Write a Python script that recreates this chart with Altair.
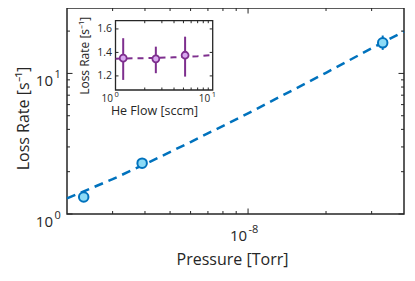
import altair as alt
import pandas as pd

# ---- main panel data ----
pressure = [2.32e-9, 3.90e-9, 3.31e-8]
rate = [1.32, 2.30, 16.5]
rate_lo = [1.29, 2.25, 14.7]
rate_hi = [1.35, 2.36, 18.6]
fit_pressure = [2e-9, 3e-9, 4e-9, 6e-9, 1e-8, 2e-8, 3e-8, 4e-8]
fit_rate = [1.29, 1.77, 2.26, 3.25, 5.2, 10.1, 15.1, 19.9]
x_minor = [3e-9, 4e-9, 5e-9, 6e-9, 7e-9, 8e-9, 9e-9, 2e-8, 3e-8]
x_major = [1e-8]
x_label_exp = ["-8"]
y_minor = [2, 3, 4, 5, 6, 7, 8, 9, 20]
y_major = [1, 10]
y_label_exp = ["0", "1"]

# ---- inset data ----
flow = [1.2, 2.6, 5.2]
inset_rate = [1.351, 1.345, 1.376]
inset_lo = [1.166, 1.223, 1.194]
inset_hi = [1.521, 1.449, 1.534]
inset_fit_flow = [1, 2, 4, 7, 10]
inset_fit_rate = [1.347, 1.351, 1.358, 1.368, 1.379]
inset_x_minor = [2, 3, 4, 5, 6, 7, 8, 9]
inset_x_major = [1, 10]
inset_x_exp = ["0", "1"]
inset_y_ticks = [1.2, 1.4, 1.6]

FONT = "Open Sans"
DARK = "#262626"
BLUE = "#0072BD"
CYAN = "#8CDBF6"
PURPLE = "#7E2F8E"
LILAC = "#D8A8F0"

W, H = 337, 206
IX = [48.5, 145.7]
IY = [82, 12.7]

xs = alt.Scale(type="log", domain=[2e-9, 4e-8], nice=False)
ys = alt.Scale(type="log", domain=[1, 29.2], nice=False)
ixs = alt.Scale(type="log", domain=[1, 10], range=IX, nice=False)
iys = alt.Scale(type="linear", domain=[1.08, 1.67], range=IY, nice=False, zero=False)

main_df = pd.DataFrame({"p": pressure, "r": rate, "lo": rate_lo, "hi": rate_hi})
fit_df = pd.DataFrame({"p": fit_pressure, "r": fit_rate})

fit_line = alt.Chart(fit_df).mark_line(color=BLUE, strokeWidth=2.5, strokeDash=[9, 6]).encode(
    x=alt.X("p:Q", scale=xs, axis=alt.Axis(
        orient="bottom", labels=False, ticks=False, domain=False, grid=False,
        title="Pressure [Torr]", titleFont=FONT, titleFontSize=16, titleFontWeight="normal",
        titleColor=DARK, titlePadding=37, titleX=165, titleAlign="center")),
    y=alt.Y("r:Q", scale=ys, axis=alt.Axis(
        orient="left", labels=False, ticks=False, domain=False, grid=False,
        title="Loss Rate [s⁻¹]", titleFont=FONT, titleFontSize=16, titleFontWeight="normal",
        titleColor=DARK, titlePadding=36, titleY=110, titleAlign="center")),
)

err = alt.Chart(main_df).mark_rule(color=BLUE, strokeWidth=2).encode(
    x=alt.X("p:Q", scale=xs, axis=None),
    y=alt.Y("lo:Q", scale=ys, axis=None),
    y2="hi:Q",
)
pts = alt.Chart(main_df).mark_point(shape="circle", size=90, fill=CYAN, fillOpacity=1,
                                    stroke=BLUE, strokeWidth=2, opacity=1).encode(
    x=alt.X("p:Q", scale=xs, axis=None),
    y=alt.Y("r:Q", scale=ys, axis=None),
)


def xticks(vals, scale, y0, length, sign):
    return alt.Chart(pd.DataFrame({"v": vals})).mark_rule(color=DARK, strokeWidth=1).encode(
        x=alt.X("v:Q", scale=scale, axis=None),
        y=alt.value(y0), y2=alt.value(y0 + sign * length))


def yticks(vals, scale, x0, length, sign):
    return alt.Chart(pd.DataFrame({"v": vals})).mark_rule(color=DARK, strokeWidth=1).encode(
        y=alt.Y("v:Q", scale=scale, axis=None),
        x=alt.value(x0), x2=alt.value(x0 + sign * length))


def xlabels(vals, exps, scale, y0, fs, fse, dx, rise):
    df = pd.DataFrame({"v": vals, "e": exps})
    base = alt.Chart(df).mark_text(font=FONT, fontSize=fs, color=DARK, align="right",
                                   baseline="middle", dx=dx, text="10").encode(
        x=alt.X("v:Q", scale=scale, axis=None), y=alt.value(y0))
    sup = alt.Chart(df).mark_text(font=FONT, fontSize=fse, color=DARK, align="left",
                                  baseline="middle", dx=dx + 1.5).encode(
        x=alt.X("v:Q", scale=scale, axis=None), y=alt.value(y0 - rise), text="e:N")
    return [base, sup]


def ylabels(vals, exps, scale, x0, fs, fse, dy, rise):
    df = pd.DataFrame({"v": vals, "e": exps})
    base = alt.Chart(df).mark_text(font=FONT, fontSize=fs, color=DARK, align="right",
                                   baseline="middle", dy=dy, text="10").encode(
        y=alt.Y("v:Q", scale=scale, axis=None), x=alt.value(x0))
    sup = alt.Chart(df).mark_text(font=FONT, fontSize=fse, color=DARK, align="left",
                                  baseline="middle", dy=dy - rise, dx=1.5).encode(
        y=alt.Y("v:Q", scale=scale, axis=None), x=alt.value(x0), text="e:N")
    return [base, sup]


box = alt.Chart(pd.DataFrame({"a": [0]})).mark_rect(fill="white", stroke=DARK, strokeWidth=1.3).encode(
    x=alt.value(IX[0]), x2=alt.value(IX[1]), y=alt.value(IY[1]), y2=alt.value(IY[0]))

inset_df = pd.DataFrame({"f": flow, "r": inset_rate, "lo": inset_lo, "hi": inset_hi})
ifit_df = pd.DataFrame({"f": inset_fit_flow, "r": inset_fit_rate})

ifit = alt.Chart(ifit_df).mark_line(color=PURPLE, strokeWidth=2, strokeDash=[6, 5]).encode(
    x=alt.X("f:Q", scale=ixs, axis=alt.Axis(
        orient="bottom", offset=-(H - IY[0]), labels=False, ticks=False, domain=False, grid=False,
        title="He Flow [sccm]", titleFont=FONT, titleFontSize=12.5, titleFontWeight="normal",
        titleColor=DARK, titlePadding=14, titleX=87, titleAlign="center")),
    y=alt.Y("r:Q", scale=iys, axis=alt.Axis(
        orient="left", offset=-IX[0], values=inset_y_ticks, format=".1f", ticks=False,
        domain=False, grid=False, labelOverlap=False,
        labelFont=FONT, labelFontSize=10.5, labelColor=DARK, labelPadding=4,
        title="Loss Rate [s⁻¹]", titleFont=FONT, titleFontSize=12, titleFontWeight="normal",
        titleColor=DARK, titlePadding=5)),
)
ierr = alt.Chart(inset_df).mark_rule(color=PURPLE, strokeWidth=2).encode(
    x=alt.X("f:Q", scale=ixs, axis=None),
    y=alt.Y("lo:Q", scale=iys, axis=None),
    y2="hi:Q",
)
ipts = alt.Chart(inset_df).mark_point(shape="circle", size=48, fill=LILAC, fillOpacity=1,
                                      stroke=PURPLE, strokeWidth=1.8, opacity=1).encode(
    x=alt.X("f:Q", scale=ixs, axis=None),
    y=alt.Y("r:Q", scale=iys, axis=None),
)

chart = alt.layer(
    err, fit_line, pts,
    xticks(x_minor, xs, H, 3, -1), xticks(x_minor, xs, 0, 3, 1),
    xticks(x_major, xs, H, 5.5, -1), xticks(x_major, xs, 0, 5.5, 1),
    yticks(y_minor, ys, 0, 3, 1), yticks(y_minor, ys, W, 3, -1),
    yticks(y_major, ys, 0, 5.5, 1), yticks(y_major, ys, W, 5.5, -1),
    *xlabels(x_major, x_label_exp, xs, H + 22, 15, 11, -1, 6),
    *ylabels(y_major, y_label_exp, ys, -14, 15, 11, 8, 6),
    box,
    ierr, ifit, ipts,
    xticks(inset_x_minor, ixs, IY[0], 2.5, -1), xticks(inset_x_minor, ixs, IY[1], 2.5, 1),
    yticks(inset_y_ticks, iys, IX[0], 3, 1), yticks(inset_y_ticks, iys, IX[1], 3, -1),
    *xlabels(inset_x_major, inset_x_exp, ixs, IY[0] + 8.5, 10, 7.5, -2.5, 4),
).resolve_scale(
    x="independent", y="independent"
).resolve_axis(x="independent", y="independent").properties(
    width=W, height=H,
    autosize=alt.AutoSizeParams(type="none"),
    padding={"left": 59, "top": 0, "right": 3, "bottom": 59},
    background="white",
).configure_view(stroke=DARK, strokeWidth=1.5)

chart.save("out.html", embed_options={"renderer": "svg", "actions": False})
